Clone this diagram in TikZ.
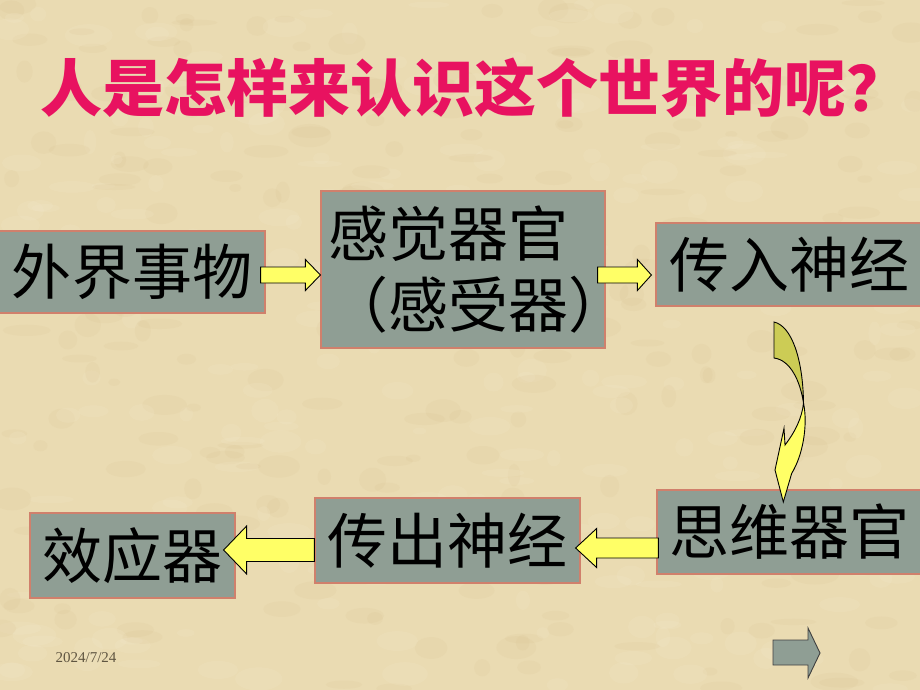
\documentclass[tikz,border=0pt]{standalone}
\usepackage{fontspec}
\setmainfont{Liberation Serif}
\newfontfamily\cjk{Noto Sans CJK SC}
\usetikzlibrary{calc}
\definecolor{paper}{RGB}{234,219,178}
\definecolor{paperdark}{RGB}{214,190,140}
\definecolor{paperlight}{RGB}{245,234,205}
\definecolor{boxgray}{RGB}{143,158,148}
\definecolor{boxline}{RGB}{208,128,108}
\definecolor{titlepink}{RGB}{232,18,96}
\definecolor{arrowyellow}{RGB}{255,255,102}
\definecolor{arrowolive}{RGB}{204,204,85}
\definecolor{datebrown}{RGB}{95,85,65}
\tikzset{
  organ/.style={draw=boxline, line width=1.2pt, fill=boxgray, inner sep=0pt, font=\cjk\fontsize{60}{71}\selectfont},
  fatarrow/.style={draw=black, line width=0.9pt, fill=arrowyellow, line join=miter},
}
\def\blockarrow(#1)(#2)(#3:#4:#5){%
  \coordinate (hb) at ($(#2)!#5!(#1)$);
  \draw[fatarrow] ($(#1)!#3!90:(hb)$) -- ($(hb)!#3!-90:(#1)$) -- ($(hb)!#4!-90:(#1)$) -- (#2)
    -- ($(hb)!#4!90:(#1)$) -- ($(hb)!#3!90:(#1)$) -- ($(#1)!#3!-90:(hb)$) -- cycle;}

\begin{document}
\begin{tikzpicture}[x=1pt, y=-1pt]
			%%%%% START %%%%%
			
			\useasboundingbox (0, 0) rectangle (920, 690);
			\fill[paper] (0, 0) rectangle (920, 690);
			\pgfmathsetseed{11}
			\begin{scope}
				\clip (0, 0) rectangle (920, 690);
				\foreach \i in {1,...,260}{
					\fill[paperdark, opacity=0.13] ({920*rnd}, {690*rnd}) ellipse ({6+18*rnd} and {3+9*rnd});
					\fill[paperlight, opacity=0.18] ({920*rnd}, {690*rnd}) ellipse ({6+18*rnd} and {3+9*rnd});
				}
			\end{scope}
			
			\node[text=titlepink, font=\cjk\bfseries\fontsize{62}{62}\selectfont] (title) at (474, 88) {人是怎样来认识这个世界的呢？};
			
			\node[organ, minimum width=266pt, minimum height=82pt] (ext) at (132, 272) {外界事物};
			\node[organ, minimum width=284pt, minimum height=157pt, text width=270pt, align=left] (sense) at (463, 269.5) {感觉器官\\（感受器）};
			\node[organ, minimum width=266pt, minimum height=83pt] (affin) at (789, 264.5) {传入神经};
			
			\node[organ, minimum width=265pt, minimum height=84pt] (brain) at (789.5, 532) {思维器官};
			\node[organ, minimum width=265pt, minimum height=85pt] (effer) at (447.5, 540.5) {传出神经};
			\node[organ, minimum width=205pt, minimum height=85pt] (effector) at (132.5, 555.5) {效应器};
			
			\coordinate (a1) at ($(ext.east)+(-5, 3)$);
			\coordinate (b1) at (sense.west |- a1);
			\blockarrow(a1)(b1)(8pt:15.5pt:15pt)
			\coordinate (a2) at ($(sense.east |- a1)+(-8, 0)$);
			\coordinate (b2) at ($(affin.west |- a1)+(-4, 0)$);
			\blockarrow(a2)(b2)(8pt:15.5pt:14pt)
			
			\coordinate (a3) at ($(brain.west)+(2, 16)$);
			\coordinate (b3) at ($(effer.east |- a3)+(-5, 0)$);
			\blockarrow(a3)(b3)(10pt:19.5pt:21pt)
			\coordinate (a4) at ($(effer.west)+(0, 9.5)$);
			\coordinate (b4) at ($(effector.east |- a4)+(-12, 0)$);
			\blockarrow(a4)(b4)(11.5pt:24pt:23pt)
			
			% curved arrow down to the brain
			\draw[fatarrow, fill=arrowolive] (774, 322) .. controls (792, 326) and (803, 360) .. (803.5, 403)
				.. controls (800, 380) and (790, 360) .. (774, 358) -- cycle;
			\draw[fatarrow] (803.5, 403) .. controls (808, 425) and (803, 455) .. (791.7, 473.3) -- (783.3, 502)
				-- (775, 470) -- (784, 428.3) -- (785, 445) .. controls (795, 432) and (802, 418) .. (803.5, 403) -- cycle;
			
			\node[text=datebrown, font=\fontsize{15}{15}\selectfont] (date) at (86, 658) {2024/7/24};
			
			\draw[fill=boxgray, draw=black!75, line width=0.9pt] (773, 640) -- (808, 640) -- (808, 628) -- (820, 653)
				-- (808, 678) -- (808, 665) -- (773, 665) -- cycle;
			
			%%%%% END %%%%%
\end{tikzpicture}
\end{document}
